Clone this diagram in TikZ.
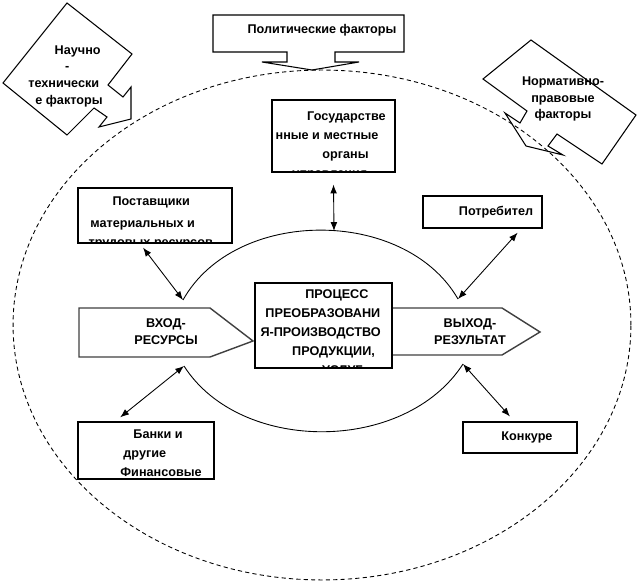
\documentclass[tikz,border=0pt]{standalone}
\usepackage{fontspec}
\setmainfont{Liberation Sans}
\usetikzlibrary{arrows.meta}

\begin{document}
\begin{tikzpicture}[x=0.02cm, y=-0.02cm, line join=miter,
	lbl/.style={font=\fontsize{7.2}{10.8}\selectfont\bfseries, inner sep=0pt},
	lblc/.style={font=\fontsize{7.2}{9.6}\selectfont\bfseries, inner sep=0pt},
	callout/.style={draw, line width=0.6pt},
	box/.style={draw, line width=0.7pt, inner sep=0pt, fill=white},
	clipped/.style 2 args={path picture={\node[lbl, draw=none, fill=none, minimum width=0pt, minimum height=0pt, align=left, anchor=north west] at ([shift={#1}]path picture bounding box.north west) {#2};}},
	pent/.style={draw=black!75, line width=0.8pt, fill=white},
	link/.style={{Latex[length=5pt,width=3.8pt]}-{Latex[length=5pt,width=3.8pt]}, line width=0.5pt},
	arc/.style={line width=0.5pt}]
	\useasboundingbox (0,0) rectangle (640,588);
	
	\draw[dash pattern=on 2.4pt off 1.8pt, line width=0.5pt] (322,325) ellipse [x radius=6.18cm, y radius=5.1cm];
	
	% factors outside
	\draw[callout] (213,15) -- (404,15) -- (404,52) -- (335,52) -- (335,62) -- (359,62) -- (312,70)
		-- (262,62) -- (287,62) -- (287,52) -- (213,52) -- cycle;
	\node[lbl] (pol) at (322,30) {Политические факторы};
	
	\draw[callout] (67,3) -- (132,54) -- (108,85) -- (123,97) -- (131,87) -- (131,119) -- (99,127)
		-- (107,117) -- (94,108) -- (67,135) -- (3,83) -- cycle;
	\node[lblc, align=left, anchor=north west] (sci) at (28,45) {\hspace*{15pt}Научно\\\hspace*{21pt}-\\технически\\\hspace*{4pt}е факторы};
	
	\draw[callout] (531,40) -- (636,115) -- (602,164) -- (557,134) -- (548,146) -- (563,155) -- (526,146)
		-- (505,113) -- (520,123) -- (527,111) -- (483,79) -- cycle;
	\node[lblc, align=center] (norm) at (563,99) {Нормативно-\\правовые\\факторы};
	
	% input, output
	\draw[pent] (79,308) -- (210,308) -- (253,341) -- (210,357) -- (79,357) -- cycle;
	\node[lblc, align=center] (in) at (166,332) {ВХОД-\\РЕСУРСЫ};
	\draw[pent] (392,308) -- (502,308) -- (540,332) -- (502,355) -- (392,355) -- cycle;
	\node[lblc, align=center] (out) at (470,332) {ВЫХОД-\\РЕЗУЛЬТАТ};
	
	\node[box, minimum width=2.74cm, minimum height=1.7cm, clipped={(2.8pt,-3.4pt)}{\hspace*{25.5pt}ПРОЦЕСС\\\hspace*{2.8pt}ПРЕОБРАЗОВАНИ\\Я-ПРОИЗВОДСТВО\\\hspace*{18pt}ПРОДУКЦИИ,\\\hspace*{35pt}УСЛУГ}] (proc) at (323.5,325.5) {};
	
	% participants
	\node[box, minimum width=2.46cm, minimum height=1.44cm, clipped={(1.7pt,-6.2pt)}{\hspace*{18pt}Государстве\\нные и местные\\\hspace*{26.6pt}органы\\\hspace*{9.6pt}управления}] (gov) at (333.5,136) {};
	\node[box, minimum width=3.08cm, minimum height=1.1cm, clipped={(5.7pt,-4.5pt)}{\hspace*{13.6pt}Поставщики\\[1.7pt]\hspace*{1pt}материальных и\\трудовых ресурсов}] (sup) at (155,215.5) {};
	\node[box, minimum width=2.38cm, minimum height=0.64cm] (cons) at (482.5,212) {};
	\node[lbl] at (496,212) {Потребител};
	\node[box, minimum width=2.72cm, minimum height=1.14cm, clipped={(23.8pt,-4pt)}{\hspace*{7.4pt}Банки и\\\hspace*{1.7pt}другие\\Финансовые}] (bank) at (146,450.5) {};
	\node[box, minimum width=2.28cm, minimum height=0.62cm] (comp) at (520,437.5) {};
	\node[lbl] at (527,437) {Конкуре};
	
	\coordinate (inN) at (183,300);
	\coordinate (inS) at (184,366);
	\coordinate (outN) at (458,299);
	\coordinate (outS) at (463,364);
	\coordinate (arcTop) at (334,231);
	
	\draw[arc] (inN) .. controls (235,207) and (405,207) .. (outN);
	\draw[arc] (inS) .. controls (240,454) and (405,454) .. (outS);
	
	\draw[link] ([shift={(-6.8pt,-2.3pt)}]sup.south) -- (inN);
	\draw[link] ([shift={(20pt,-2.3pt)}]cons.south) -- (outN);
	\draw[link] (inS) -- ([shift={(-14.7pt,2.3pt)}]bank.north);
	\draw[link] (outS) -- ([shift={(-5.7pt,2.8pt)}]comp.north);
	\draw[link] ([yshift=-6.8pt]gov.south) -- (arcTop);
\end{tikzpicture}
\end{document}
